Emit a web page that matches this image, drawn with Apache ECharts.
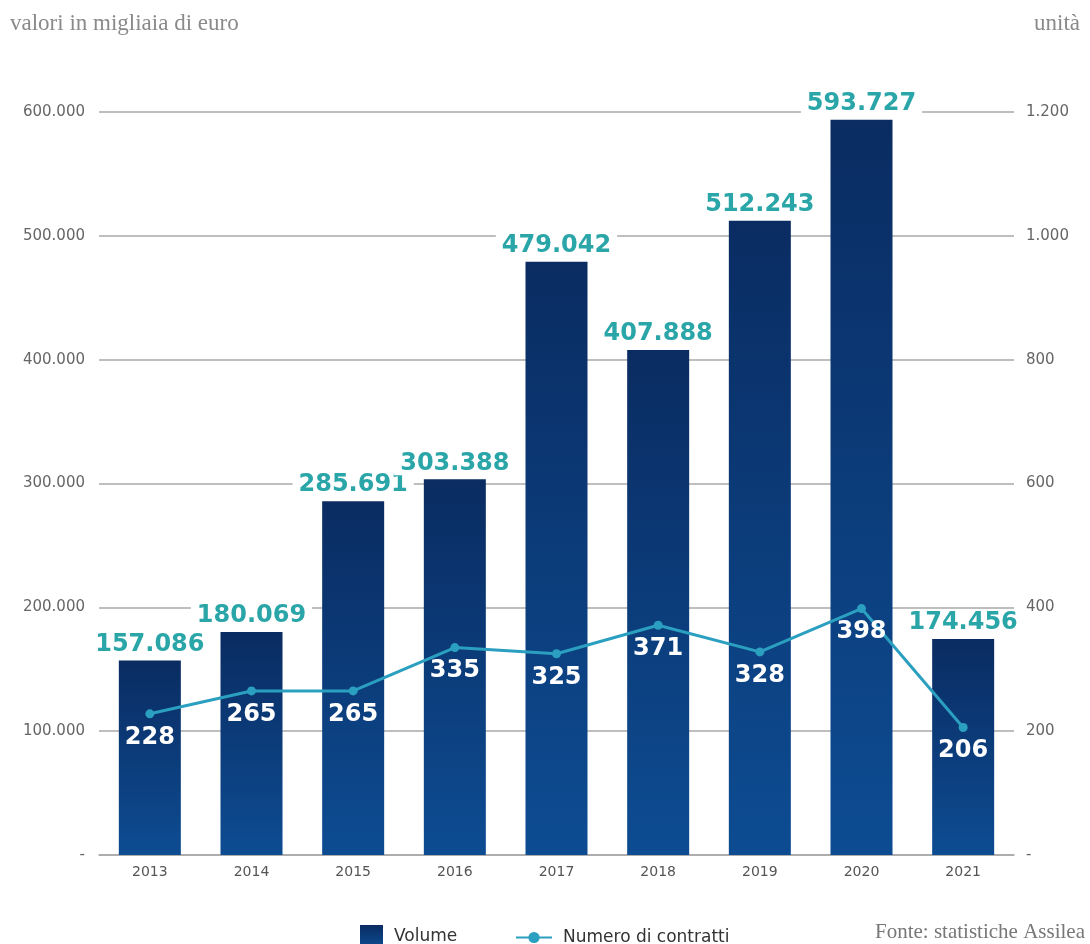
<!DOCTYPE html>
<html>
<head>
<meta charset="utf-8">
<script src="https://cdn.jsdelivr.net/npm/echarts@6/dist/echarts.min.js"></script>
<style>
  html, body { margin: 0; padding: 0; background: #fff; }
  #chart { width: 1090px; height: 944px; }
</style>
</head>
<body>
<div id="chart"></div>
<script>
// dati
const anni = ['2013', '2014', '2015', '2016', '2017', '2018', '2019', '2020', '2021'];
const volume = [157086, 180069, 285691, 303388, 479042, 407888, 512243, 593727, 174456];
const contratti = [228, 265, 265, 335, 325, 371, 328, 398, 206];

const fmt = v => v === 0 ? '-' : v.toLocaleString('it-IT');
const numFont = 'DejaVu Sans';
const serif = 'Liberation Serif';

const chart = echarts.init(document.getElementById('chart'));

const option = {
    backgroundColor: '#fff',
    animation: false,
    graphic: [
        { type: 'text', left: 10, top: 12, style: { text: 'valori in migliaia di euro', font: '23px ' + serif, fill: '#8a8a8a' } },
        { type: 'text', right: 10, top: 12, style: { text: 'unità', font: '23px ' + serif, fill: '#8a8a8a' } },
        { type: 'text', right: 5, top: 922, style: { text: 'Fonte: statistiche Assilea', font: '21px ' + serif, fill: '#777' } }
    ],
    legend: [
        {
            data: [{ name: 'Volume', icon: 'rect' }],
            left: 355, top: 920,
            itemWidth: 23, itemHeight: 23,
            textStyle: { fontFamily: numFont, fontSize: 17, color: '#333', padding: [0, 0, 0, 6] }
        },
        {
            data: ['Numero di contratti'],
            left: 510, top: 924,
            itemWidth: 36, itemHeight: 14,
            textStyle: { fontFamily: numFont, fontSize: 17, color: '#333', padding: [0, 0, 0, 6] }
        }
    ],
    grid: { left: 99, right: 76, top: 112, bottom: 89 },
    xAxis: {
        type: 'category',
        data: anni,
        axisTick: { show: false },
        axisLine: { lineStyle: { color: '#a8a8a8', width: 1.5 } },
        axisLabel: { color: '#555', fontFamily: numFont, fontSize: 14, margin: 10 }
    },
    yAxis: [
        {
            type: 'value', min: 0, max: 600000, interval: 100000,
            axisLabel: { formatter: fmt, color: '#666', fontFamily: numFont, fontSize: 15, margin: 14 },
            splitLine: { lineStyle: { color: '#a8a8a8', width: 1.5 } },
            axisLine: { show: false }, axisTick: { show: false }
        },
        {
            type: 'value', min: 0, max: 1200, interval: 200,
            axisLabel: { formatter: fmt, color: '#666', fontFamily: numFont, fontSize: 15, margin: 12 },
            splitLine: { show: false },
            axisLine: { show: false }, axisTick: { show: false }
        }
    ],
    series: [
        {
            name: 'Volume',
            type: 'bar',
            data: volume,
            barWidth: 62,
            itemStyle: {
                color: new echarts.graphic.LinearGradient(0, 0, 0, 1, [
                    { offset: 0, color: '#0a2c62' },
                    { offset: 1, color: '#0d4c92' }
                ])
            },
            label: {
                show: true, position: 'top', distance: 4,
                formatter: p => fmt(p.value),
                color: '#2aa5a8', fontFamily: numFont, fontWeight: 'bold', fontSize: 24,
                backgroundColor: '#fff', padding: [0, 6, 0, 6]
            },
            z: 2
        },
        {
            name: 'Numero di contratti',
            type: 'line',
            yAxisIndex: 1,
            data: contratti,
            color: '#2b9fc0',
            lineStyle: { width: 3, color: '#2b9fc0' },
            symbol: 'circle',
            symbolSize: 9,
            itemStyle: { color: '#2b9fc0' },
            label: {
                show: true, position: 'bottom', distance: 7,
                color: '#fff', fontFamily: numFont, fontWeight: 'bold', fontSize: 24
            },
            z: 3
        }
    ]
};

chart.setOption(option);
</script>
</body>
</html>
